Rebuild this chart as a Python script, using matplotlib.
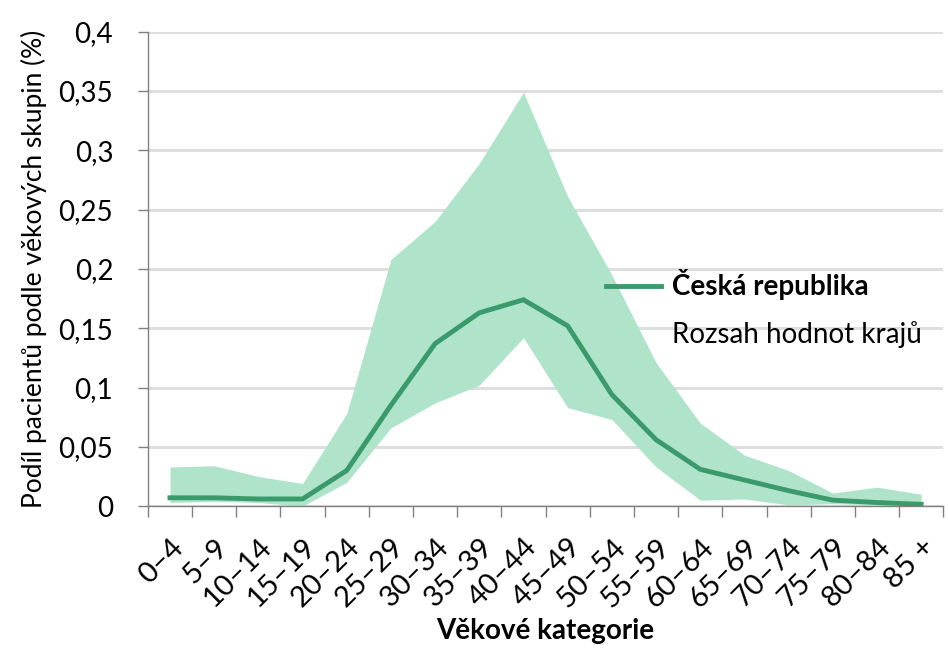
import matplotlib.pyplot as plt
from matplotlib.lines import Line2D
from matplotlib.patches import Patch
from matplotlib.ticker import FuncFormatter
import numpy as np

plt.rcParams['font.family'] = ['Lato', 'DejaVu Sans']

# věkové kategorie a podíly (%)
kategorie = ['0–4', '5–9', '10–14', '15–19', '20–24', '25–29', '30–34', '35–39',
             '40–44', '45–49', '50–54', '55–59', '60–64', '65–69', '70–74',
             '75–79', '80–84', '85 +']
cr = [0.007, 0.007, 0.006, 0.006, 0.030, 0.085, 0.137, 0.163, 0.174, 0.152,
      0.094, 0.056, 0.031, 0.022, 0.013, 0.005, 0.003, 0.0015]
kraje_max = [0.033, 0.034, 0.025, 0.019, 0.078, 0.208, 0.240, 0.289, 0.349, 0.261,
             0.195, 0.121, 0.070, 0.043, 0.030, 0.011, 0.016, 0.010]
kraje_min = [0.003, 0.004, 0.003, 0.000, 0.020, 0.066, 0.087, 0.102, 0.142, 0.083,
             0.073, 0.033, 0.005, 0.006, 0.001, 0.002, 0.001, 0.000]

zelena = '#3a9a6b'
svetla = '#afe4cb'

fig = plt.figure(figsize=(9.48, 6.48), dpi=100)
ax = fig.add_axes([0.156, 0.219, 0.839, 0.732])

x = np.arange(len(kategorie))
ax.fill_between(x, kraje_min, kraje_max, color=svetla, linewidth=0, zorder=2)
ax.plot(x, cr, color=zelena, linewidth=3.5, solid_joinstyle='miter', zorder=3)

ax.set_xlim(-0.5, len(kategorie) - 0.5)
ax.set_ylim(0, 0.4)
ax.set_yticks(np.arange(0, 0.401, 0.05))
ax.yaxis.set_major_formatter(FuncFormatter(
    lambda v, p: '0' if v == 0 else ('%g' % round(v, 2)).replace('.', ',')))
ax.grid(axis='y', color='#dedede', linewidth=2.2, zorder=0)
ax.set_axisbelow(True)

# popisky kategorií + čárky mezi kategoriemi
ax.set_xticks(x)
ax.set_xticklabels(kategorie, rotation=45, ha='right', rotation_mode='anchor')
ax.set_xticks(np.arange(-0.5, len(kategorie)), minor=True)
ax.tick_params(axis='x', which='major', length=0, pad=20, labelsize=21)
ax.tick_params(axis='x', which='minor', length=8, width=1, color='#808080')
ax.tick_params(axis='y', length=7, width=1, color='#808080', labelsize=20, pad=18)

for s in ['top', 'right']:
    ax.spines[s].set_visible(False)
for s in ['left', 'bottom']:
    ax.spines[s].set_color('#808080')
    ax.spines[s].set_linewidth(1)

ax.set_ylabel('Podíl pacientů podle věkových skupin (%)', fontsize=19, labelpad=8)
ax.set_xlabel('Věkové kategorie', fontsize=20, fontweight='bold', labelpad=4)

handles = [Line2D([], [], color=zelena, linewidth=3.5),
           Patch(facecolor='none', edgecolor='none')]
leg = ax.legend(handles, ['Česká republika', 'Rozsah hodnot krajů'],
                loc='upper left', bbox_to_anchor=(0.544, 0.552), frameon=False,
                fontsize=20, handlelength=2.0, handletextpad=0.4, labelspacing=0.75)
leg.get_texts()[0].set_fontweight('bold')

fig.savefig('out.png', dpi=100)
